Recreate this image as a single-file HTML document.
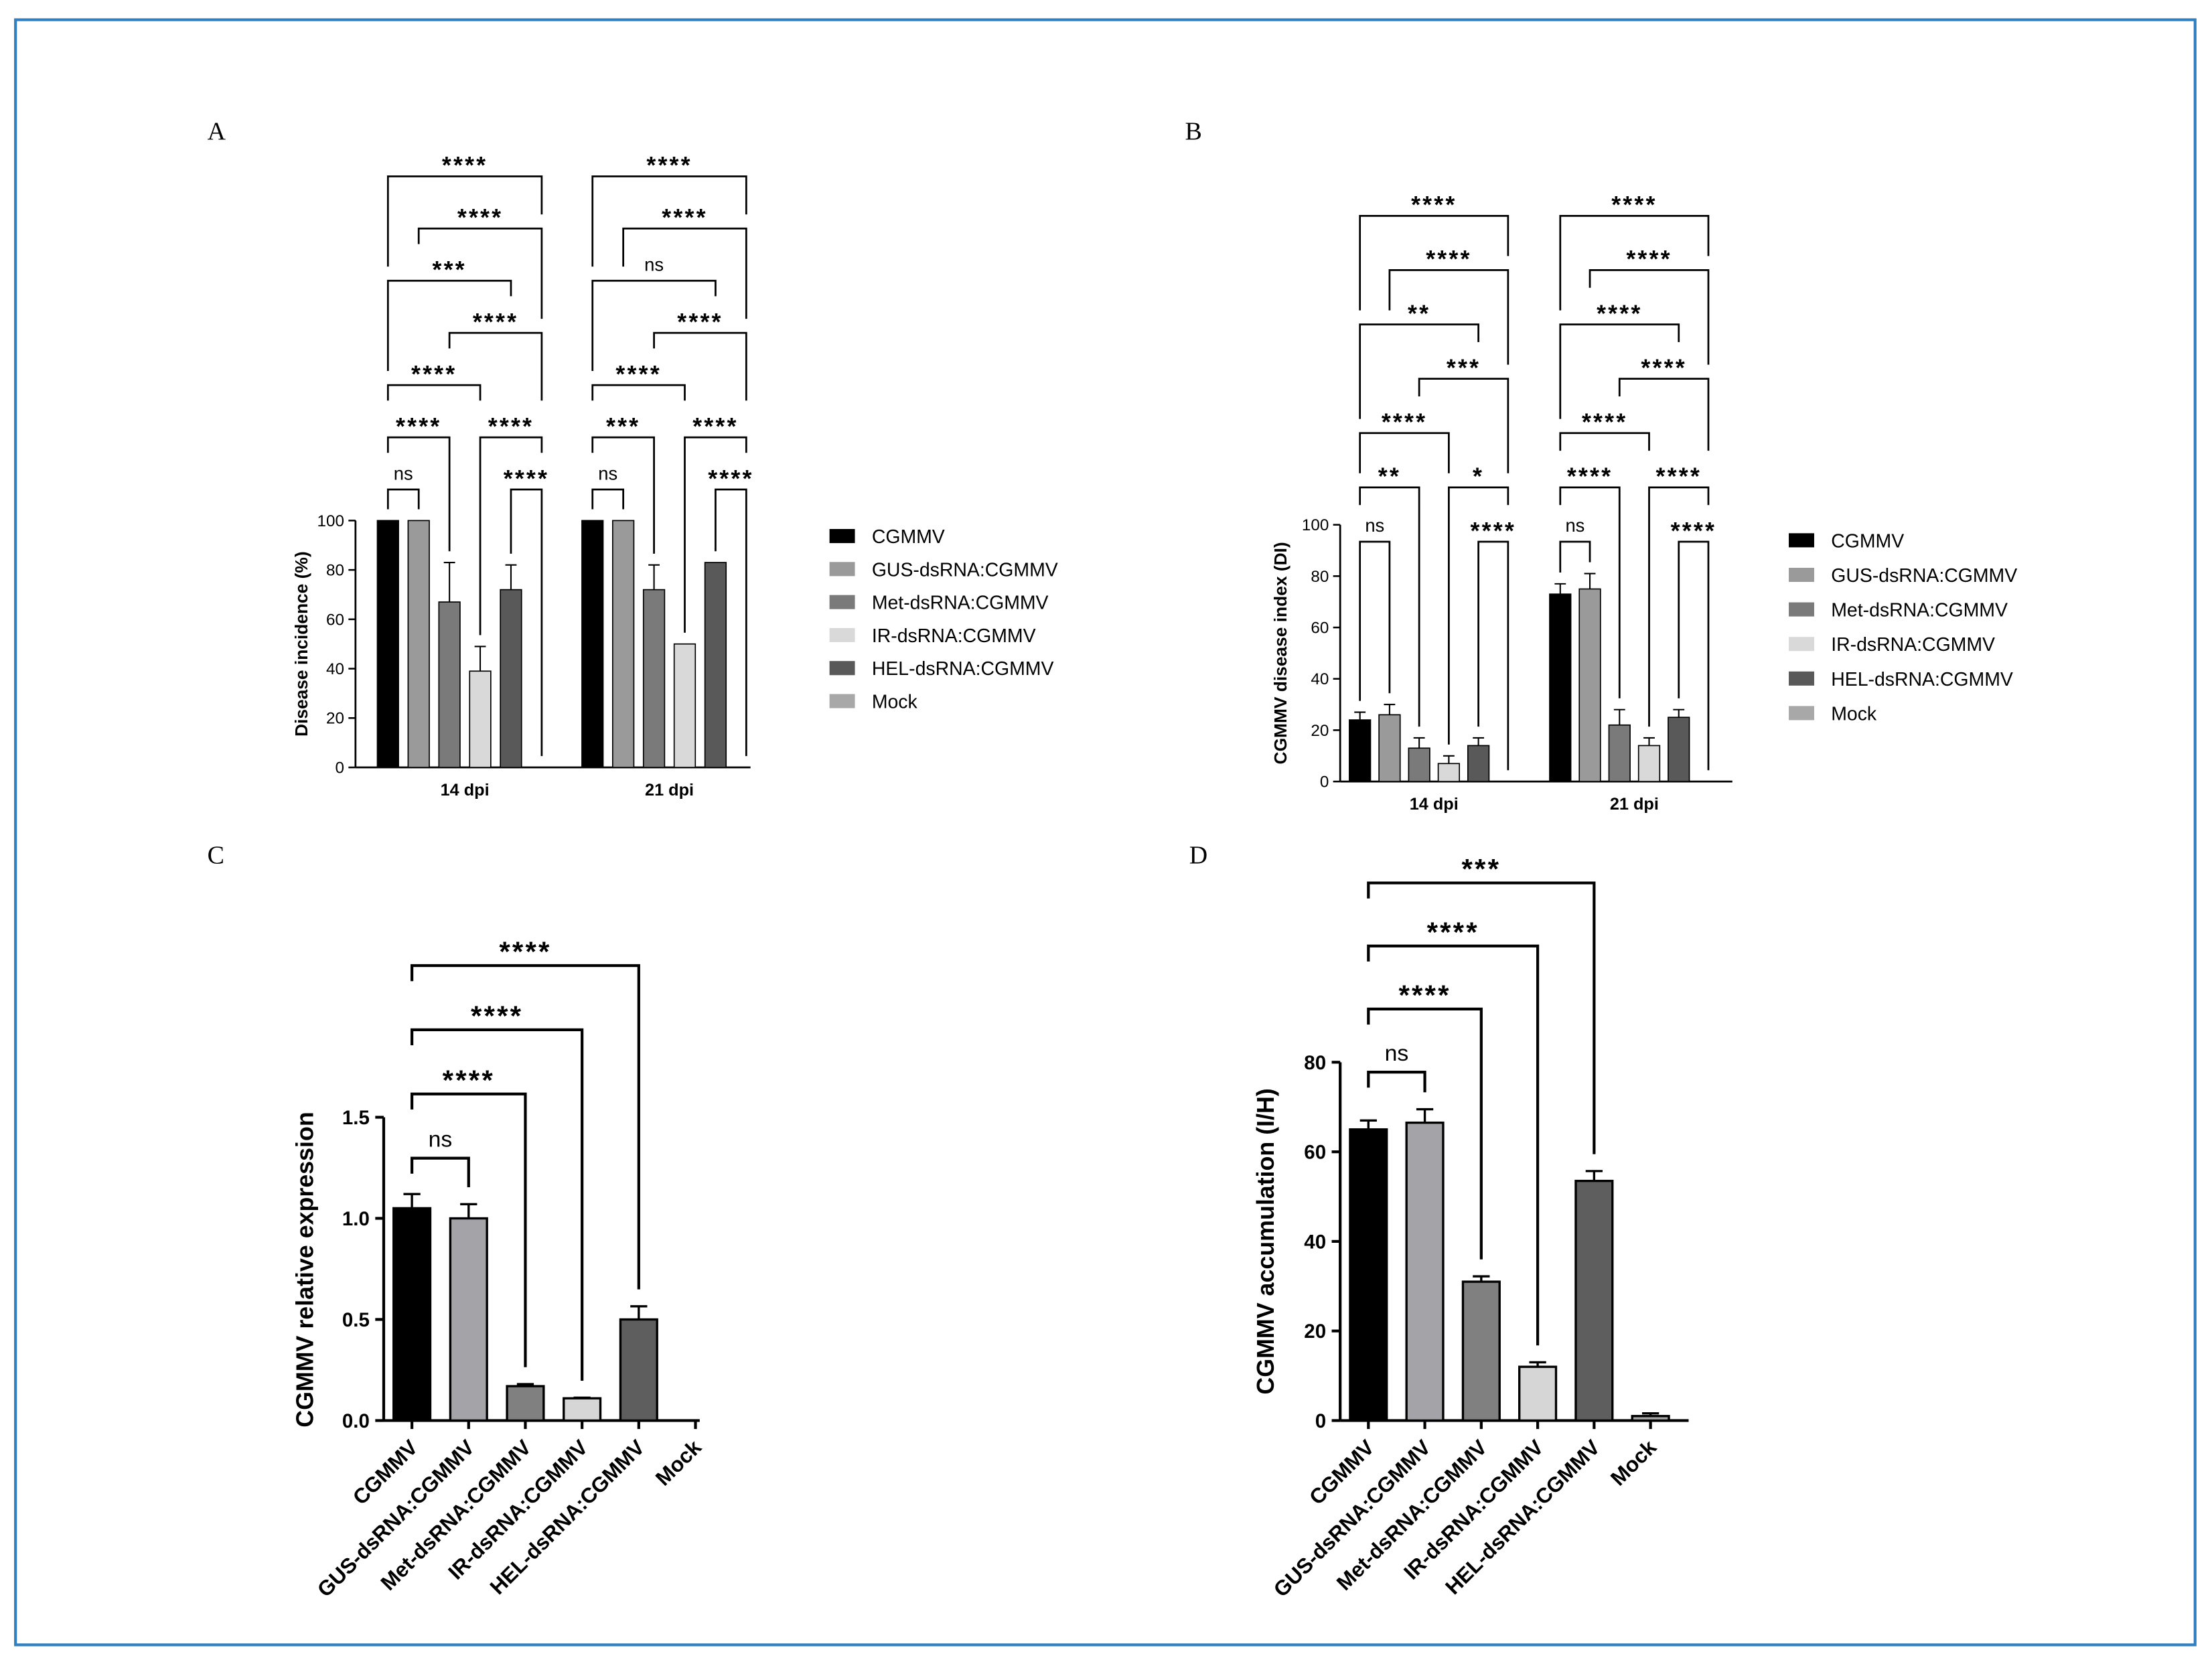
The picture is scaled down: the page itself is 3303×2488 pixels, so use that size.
<!DOCTYPE html>
<html><head><meta charset="utf-8"><style>
html,body{margin:0;padding:0;background:#fff}
svg{display:block}
text{font-family:"Liberation Sans",Arial,sans-serif;fill:#000}
</style></head><body>
<svg id="fig" width="3303" height="2488" viewBox="0 0 1568 1181" preserveAspectRatio="none" xmlns="http://www.w3.org/2000/svg">
<rect x="0" y="0" width="1568" height="1181" fill="#fff"/>
<rect x="11" y="14" width="1545" height="1152" fill="none" stroke="#2f7fc1" stroke-width="2"/>
<text x="147" y="99" font-size="18" style="font-family:'Liberation Serif',serif">A</text>
<text x="840" y="99" font-size="18" style="font-family:'Liberation Serif',serif">B</text>
<text x="147" y="612" font-size="18" style="font-family:'Liberation Serif',serif">C</text>
<text x="843" y="612" font-size="18" style="font-family:'Liberation Serif',serif">D</text>
<g id="gA"></g>
<g id="gB"></g>
<g id="gC"></g>
<g id="gD"></g>
</svg>
<script>
const seriesNames = ["CGMMV","GUS-dsRNA:CGMMV","Met-dsRNA:CGMMV","IR-dsRNA:CGMMV","HEL-dsRNA:CGMMV","Mock"];
const groupLabels = ["14 dpi","21 dpi"];
const aVals14 = [100,100,67,39,72,0];
const aErr14 = [0,0,16,10,10,0];
const aVals21 = [100,100,72,50,83,0];
const aErr21 = [0,0,10,0,0,0];
const aTicks = [0,20,40,60,80,100];
const aBr14 = [[0,1,"ns",0],[4,5,"****",0],[0,2,"****",1],[3,5,"****",1],[0,3,"****",2],[2,5,"****",3],[0,4,"***",4],[1,5,"****",5],[0,5,"****",6]];
const aBr21 = [[0,1,"ns",0],[4,5,"****",0],[0,2,"***",1],[3,5,"****",1],[0,3,"****",2],[2,5,"****",3],[0,4,"ns",4],[1,5,"****",5],[0,5,"****",6]];
const bVals14 = [24,26,13,7,14,0];
const bErr14 = [3,4,4,3,3,0];
const bVals21 = [73,75,22,14,25,0];
const bErr21 = [4,6,6,3,3,0];
const bTicks = [0,20,40,60,80,100];
const bBr14 = [[0,1,"ns",0],[4,5,"****",0],[0,2,"**",1],[3,5,"*",1],[0,3,"****",2],[2,5,"***",3],[0,4,"**",4],[1,5,"****",5],[0,5,"****",6]];
const bBr21 = [[0,1,"ns",0],[4,5,"****",0],[0,2,"****",1],[3,5,"****",1],[0,3,"****",2],[2,5,"****",3],[0,4,"****",4],[1,5,"****",5],[0,5,"****",6]];
const cVals = [1.05,1.0,0.17,0.11,0.50,0];
const cErr = [0.07,0.07,0.01,0.003,0.065,0];
const cTicks = [0,0.5,1.0,1.5];
const cTickLabels = ["0.0","0.5","1.0","1.5"];
const cBr = [[0,1,"ns",0],[0,2,"****",1],[0,3,"****",2],[0,4,"****",3]];
const dVals = [65,66.5,31,12,53.5,1];
const dErr = [2,3,1.2,1,2.2,0.6];
const dTicks = [0,20,40,60,80];
const dBr = [[0,1,"ns",0],[0,2,"****",1],[0,3,"****",2],[0,4,"***",3]];
const colorsAB = ["#000000","#9a9a9a","#7a7a7a","#d9d9d9","#595959","#a8a8a8"];
const colorsCD = ["#000000","#a3a3a8","#808080","#d6d6d6","#5e5e5e","#a8a8a8"];

const NS="http://www.w3.org/2000/svg";
function mk(parent,tag,attrs,txt){const e=document.createElementNS(NS,tag);for(const k in attrs)e.setAttribute(k,attrs[k]);if(txt!==undefined)e.textContent=txt;parent.appendChild(e);return e;}

function grouped(g,cfg){
  const y=v=>cfg.y0-(v-cfg.min)/(cfg.max-cfg.min)*(cfg.y0-cfg.yTop);
  let l=mk(g,'line',{x1:cfg.ax,y1:cfg.yTop,x2:cfg.ax,y2:cfg.y0,stroke:'#000','stroke-width':1.3});
  
  
  l=mk(g,'line',{x1:cfg.ax,y1:cfg.y0,x2:cfg.axEnd,y2:cfg.y0,stroke:'#000','stroke-width':1.3});
  
  
  cfg.ticks.forEach(t=>{
    const tl=mk(g,'line',{x1:cfg.ax-5,y1:y(t),x2:cfg.ax,y2:y(t),stroke:'#000','stroke-width':1.2});
    
    
    const tx=mk(g,'text',{x:cfg.ax-8,y:y(t)+4,'font-size':11.5,'text-anchor':'end'},String(t));
    
    
  });
  const tt=mk(g,'text',{x:0,y:0,'font-size':12.5,'font-weight':'bold','text-anchor':'middle',transform:`translate(${cfg.titleX},${(cfg.y0+cfg.yTop)/2}) rotate(-90)`},cfg.title);
  
  
  cfg.groups.forEach((gr,gi)=>{
    const centers=seriesNames.map((_,i)=>gr.x0+i*cfg.step);
    const tops=[];
    gr.vals.forEach((v,i)=>{
      const top=y(v+gr.err[i]);tops.push(v===0?cfg.y0:top);
      if(v>0){
        const r=mk(g,'rect',{x:centers[i]-cfg.bw/2,y:y(v),width:cfg.bw,height:cfg.y0-y(v),fill:cfg.colors[i],stroke:'#000','stroke-width':0.8});
        
        
      }
      if(gr.err[i]>0){
        const e=mk(g,'path',{d:`M${centers[i]},${y(v)}V${y(v+gr.err[i])}M${centers[i]-4},${y(v+gr.err[i])}H${centers[i]+4}`,stroke:'#000','stroke-width':1,fill:'none'});
        
        
      }
    });
    const gl=mk(g,'text',{x:(centers[0]+centers[5])/2,y:cfg.y0+20,'font-size':12,'font-weight':'bold','text-anchor':'middle'},groupLabels[gi]);
    
    
    brackets(g,gr.br,centers,tops,cfg.brBase,cfg.brStep,1.3);
  });
  seriesNames.forEach((n,i)=>{
    const ly=cfg.legY+i*cfg.legStep;
    const r=mk(g,'rect',{x:cfg.legX,y:ly-5,width:18,height:10,fill:cfg.colors[i]});
    
    
    const t=mk(g,'text',{x:cfg.legX+30,y:ly+5,'font-size':13.5},n);
    
    
  });
}

function brackets(g,br,centers,tops,base,step,sw){
  const lv=b=>base-b[3]*step;
  br.forEach(b=>{
    const yl=lv(b);
    const legEnd=k=>{
      let best=null,bo=null;
      br.forEach(o=>{if(o!==b&&lv(o)>yl&&o[0]<=k&&o[1]>=k){if(best===null||lv(o)<best){best=lv(o);bo=o;}}});
      if(best===null) return tops[k]-8;
      const lc=(centers[bo[0]]+centers[bo[1]])/2;
      const hw=bo[2].length*6+4;
      return Math.abs(centers[k]-lc)<hw ? best-26 : best-10;
    };
    const x1=centers[b[0]],x2=centers[b[1]];
    const p=mk(g,'path',{d:`M${x1},${legEnd(b[0])}V${yl}H${x2}V${legEnd(b[1])}`,fill:'none',stroke:'#000','stroke-width':sw});
    
    
    const isNs=b[2]==='ns';
    const t=mk(g,'text',{x:(x1+x2)/2,y:isNs?yl-7:yl-2,'font-size':isNs?13:17,'font-weight':isNs?'normal':'bold','text-anchor':'middle','letter-spacing':isNs?0:1.5},b[2]);
    
    
  });
}

function single(g,cfg){
  const y=v=>cfg.y0-v/cfg.max*(cfg.y0-cfg.yTop);
  let l=mk(g,'line',{x1:cfg.ax,y1:cfg.yTop,x2:cfg.ax,y2:cfg.y0,stroke:'#000','stroke-width':2});
  
  
  l=mk(g,'line',{x1:cfg.ax,y1:cfg.y0,x2:cfg.axEnd,y2:cfg.y0,stroke:'#000','stroke-width':2});
  
  
  cfg.ticks.forEach((t,i)=>{
    const tl=mk(g,'line',{x1:cfg.ax-6,y1:y(t),x2:cfg.ax,y2:y(t),stroke:'#000','stroke-width':2});
    
    
    const tx=mk(g,'text',{x:cfg.ax-10,y:y(t)+5,'font-size':14,'font-weight':'bold','text-anchor':'end'},cfg.tickLabels[i]);
    
    
  });
  const tt=mk(g,'text',{x:0,y:0,'font-size':17,'font-weight':'bold','text-anchor':'middle',transform:`translate(${cfg.titleX},${cfg.titleY}) rotate(-90)`},cfg.title);
  
  
  const centers=seriesNames.map((_,i)=>cfg.x0+i*cfg.step);
  const tops=[];
  cfg.vals.forEach((v,i)=>{
    tops.push(y(v+cfg.err[i]));
    const c=centers[i];
    const tk=mk(g,'line',{x1:c,y1:cfg.y0,x2:c,y2:cfg.y0+6,stroke:'#000','stroke-width':2});
    
    
    if(v>0){
      const r=mk(g,'rect',{x:c-cfg.bw/2,y:y(v),width:cfg.bw,height:cfg.y0-y(v),fill:cfg.colors[i],stroke:'#000','stroke-width':1.6});
      
      
    }
    if(cfg.err[i]>0){
      const e=mk(g,'path',{d:`M${c},${y(v)}V${y(v+cfg.err[i])}M${c-6},${y(v+cfg.err[i])}H${c+6}`,stroke:'#000','stroke-width':1.6,fill:'none'});
      
      
    }
    const xt=mk(g,'text',{x:0,y:0,'font-size':15,'font-weight':'bold','text-anchor':'end',transform:`translate(${c+5},${cfg.y0+20}) rotate(-45)`},seriesNames[i]);
    
    
  });
  cfg.br.forEach(b=>{
    const yl=cfg.brBase-b[3]*cfg.brStep;
    const x1=centers[b[0]],x2=centers[b[1]];
    const p=mk(g,'path',{d:`M${x1},${yl+11}V${yl}H${x2}V${tops[b[1]]-12}`,fill:'none',stroke:'#000','stroke-width':2});
    
    
    const isNs=b[2]==='ns';
    const t=mk(g,'text',{x:(x1+x2)/2,y:yl-(isNs?8:3),'font-size':isNs?16:20,'font-weight':isNs?'normal':'bold','text-anchor':'middle','letter-spacing':isNs?0:1.5},b[2]);
    
    
  });
}

grouped(document.getElementById('gA'),{ax:252,axEnd:532,y0:544,yTop:369,min:0,max:100,ticks:aTicks,title:"Disease incidence (%)",titleX:218,
  step:21.8,bw:15,colors:colorsAB,brBase:347,brStep:37,legX:588,legY:380,legStep:23.4,
  groups:[{x0:275,vals:aVals14,err:aErr14,br:aBr14},{x0:420,vals:aVals21,err:aErr21,br:aBr21}]});
grouped(document.getElementById('gB'),{ax:950,axEnd:1228,y0:554,yTop:372,min:0,max:100,ticks:bTicks,title:"CGMMV disease index (DI)",titleX:912,
  step:21,bw:15,colors:colorsAB,brBase:384,brStep:38.5,legX:1268,legY:383,legStep:24.5,
  groups:[{x0:964,vals:bVals14,err:bErr14,br:bBr14},{x0:1106,vals:bVals21,err:bErr21,br:bBr21}]});
single(document.getElementById('gC'),{ax:272,axEnd:496,y0:1007,yTop:792,max:1.5,ticks:cTicks,tickLabels:cTickLabels,title:"CGMMV relative expression",titleX:222,titleY:900,
  x0:292,step:40.2,bw:26,colors:colorsCD,vals:cVals,err:cErr,br:cBr,brBase:821,brStep:45.5});
single(document.getElementById('gD'),{ax:950,axEnd:1197,y0:1007,yTop:753,max:80,ticks:dTicks,tickLabels:dTicks.map(String),title:"CGMMV accumulation (I/H)",titleX:903,titleY:880,
  x0:970,step:40,bw:26,colors:colorsCD,vals:dVals,err:dErr,br:dBr,brBase:760,brStep:44.7});
</script>
</body></html>
